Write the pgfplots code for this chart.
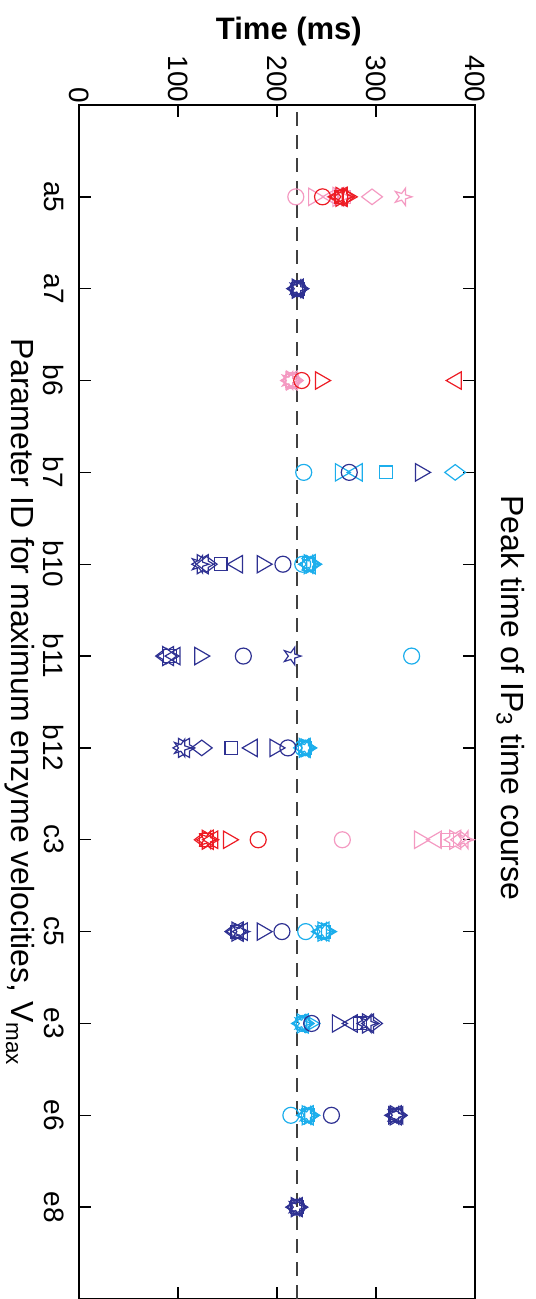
\documentclass[border=0pt]{standalone}
\usepackage{fontspec}
\setmainfont{Liberation Sans}
\usepackage{pgfplots}
\pgfplotsset{compat=1.18}
\definecolor{pinkc}{HTML}{F49AC2}
\definecolor{redc}{HTML}{ED1C24}
\definecolor{dblue}{HTML}{2E3192}
\definecolor{lblue}{HTML}{1CAEEC}
\pgfdeclareplotmark{pentagram}{%
  \pgfpathmoveto{\pgfpointpolar{0}{\pgfplotmarksize}}%
  \pgfpathlineto{\pgfpointpolar{36}{0.382*\pgfplotmarksize}}%
  \pgfpathlineto{\pgfpointpolar{72}{\pgfplotmarksize}}%
  \pgfpathlineto{\pgfpointpolar{108}{0.382*\pgfplotmarksize}}%
  \pgfpathlineto{\pgfpointpolar{144}{\pgfplotmarksize}}%
  \pgfpathlineto{\pgfpointpolar{180}{0.382*\pgfplotmarksize}}%
  \pgfpathlineto{\pgfpointpolar{216}{\pgfplotmarksize}}%
  \pgfpathlineto{\pgfpointpolar{252}{0.382*\pgfplotmarksize}}%
  \pgfpathlineto{\pgfpointpolar{288}{\pgfplotmarksize}}%
  \pgfpathlineto{\pgfpointpolar{324}{0.382*\pgfplotmarksize}}%
  \pgfpathclose\pgfusepathqstroke}
\pgfdeclareplotmark{hexagram}{%
  \pgfpathmoveto{\pgfpointpolar{0}{\pgfplotmarksize}}%
  \pgfpathlineto{\pgfpointpolar{30}{0.577*\pgfplotmarksize}}%
  \pgfpathlineto{\pgfpointpolar{60}{\pgfplotmarksize}}%
  \pgfpathlineto{\pgfpointpolar{90}{0.577*\pgfplotmarksize}}%
  \pgfpathlineto{\pgfpointpolar{120}{\pgfplotmarksize}}%
  \pgfpathlineto{\pgfpointpolar{150}{0.577*\pgfplotmarksize}}%
  \pgfpathlineto{\pgfpointpolar{180}{\pgfplotmarksize}}%
  \pgfpathlineto{\pgfpointpolar{210}{0.577*\pgfplotmarksize}}%
  \pgfpathlineto{\pgfpointpolar{240}{\pgfplotmarksize}}%
  \pgfpathlineto{\pgfpointpolar{270}{0.577*\pgfplotmarksize}}%
  \pgfpathlineto{\pgfpointpolar{300}{\pgfplotmarksize}}%
  \pgfpathlineto{\pgfpointpolar{330}{0.577*\pgfplotmarksize}}%
  \pgfpathclose\pgfusepathqstroke}
\pgfplotsset{
  mo/.style={only marks, line width=0.6pt, mark=o, mark size=4pt, mark options={solid}},
  ms/.style={only marks, line width=0.6pt, mark=square, mark size=3.2pt, mark options={solid}},
  md/.style={only marks, line width=0.6pt, mark=diamond, mark size=5.2pt, mark options={solid, rotate=90}},
  mu/.style={only marks, line width=0.6pt, mark=triangle, mark size=5pt, mark options={solid, rotate=-90}},
  mv/.style={only marks, line width=0.6pt, mark=triangle, mark size=5pt, mark options={solid, rotate=90}},
  mp/.style={only marks, line width=0.6pt, mark=pentagram, mark size=4.6pt, mark options={solid}},
  mh/.style={only marks, line width=0.6pt, mark=hexagram, mark size=5.5pt, mark options={solid}},
}
\begin{document}
\begin{tikzpicture}
\begin{axis}[name=ax, scale only axis, width=198pt, height=597pt,
  xmin=0, xmax=400, ymin=0, ymax=13,
  xtick={0,100,200,300,400}, xticklabel pos=upper,
  ytick={1,2,3,4,5,6,7,8,9,10,11,12},
  yticklabels={e8,e6,e3,c5,c3,b12,b11,b10,b7,b6,a7,a5},
  /pgf/number format/assume math mode=true,
  xticklabel style={rotate=-90, anchor=east, inner sep=1pt, font=\fontsize{14}{16}\selectfont},
  yticklabel style={xshift=-4pt, rotate=-90, anchor=north, font=\fontsize{14}{16}\selectfont},
  major tick length=6pt,
  tick style={black, line width=0.7pt},
  axis line style={black, line width=0.7pt},
  every axis x label/.style={at={(axis description cs:0.53,1)}, yshift=29.5pt, anchor=south, inner sep=0pt, font=\bfseries\fontsize{15.5}{18}\selectfont},
  every axis y label/.style={at={(axis description cs:0,0.5)}, xshift=-22pt, rotate=-90, anchor=north, inner sep=0pt, font=\fontsize{16}{19}\selectfont},
  every axis title/.style={at={(axis description cs:1,0.5)}, xshift=10.5pt, yshift=2pt, rotate=-90, anchor=south, inner sep=0pt, font=\fontsize{16}{19}\selectfont},
  xlabel={Time (ms)},
  ylabel={Parameter ID for maximum enzyme velocities, V\textsubscript{max}},
  title={Peak time of IP\textsubscript{3} time course},
]
\addplot[color=black!75, line width=0.7pt, dash pattern=on 7pt off 4.5pt] coordinates {(220,0) (220,13)};
% pink series
\addplot[mo, color=pinkc] coordinates {(219,12) (215,10) (266,5)};
\addplot[ms, color=pinkc] coordinates {(268,12) (215,10) (372,5)};
\addplot[md, color=pinkc] coordinates {(296,12) (216,10) (386,5)};
\addplot[mu, color=pinkc] coordinates {(237,12) (214,10) (344,5)};
\addplot[mv, color=pinkc] coordinates {(256,12) (214,10) (361,5)};
\addplot[mp, color=pinkc] coordinates {(327,12) (213,10) (390,5)};
\addplot[mh, color=pinkc] coordinates {(262,12) (215,10) (380,5)};
% red series
\addplot[mo, color=redc] coordinates {(246,12) (225,10) (181,5)};
\addplot[ms, color=redc] coordinates {(265,12) (128,5)};
\addplot[md, color=redc] coordinates {(268,12) (127,5)};
\addplot[mu, color=redc] coordinates {(271,12) (244,10) (151,5)};
\addplot[mv, color=redc] coordinates {(262,12) (381,10) (135,5)};
\addplot[mp, color=redc] coordinates {(268,12) (130,5)};
\addplot[mh, color=redc] coordinates {(265,12) (130,5)};
% light blue series
\addplot[mo, color=lblue] coordinates {(227,9) (226,8) (336,7) (226,6) (229,4) (226,3) (214,2)};
\addplot[ms, color=lblue] coordinates {(310,9) (232,8) (228,6) (247,4) (226,3) (231,2)};
\addplot[md, color=lblue] coordinates {(380,9) (234,8) (229,6) (248,4) (227,3) (232,2)};
\addplot[mu, color=lblue] coordinates {(264,9) (235,8) (230,6) (250,4) (233,3) (233,2)};
\addplot[mv, color=lblue] coordinates {(281,9) (232,8) (228,6) (245,4) (225,3) (230,2)};
\addplot[mp, color=lblue] coordinates {(233,8) (229,6) (247,4) (226,3) (231,2)};
\addplot[mh, color=lblue] coordinates {(233,8) (228,6) (247,4) (226,3) (231,2)};
% dark blue series
\addplot[mo, color=dblue] coordinates {(221,11) (273,9) (206,8) (166,7) (211,6) (205,4) (235,3) (255,2) (220,1)};
\addplot[ms, color=dblue] coordinates {(221,11) (143,8) (92,7) (154,6) (160,4) (284,3) (320,2) (220,1)};
\addplot[md, color=dblue] coordinates {(221,11) (129,8) (88,7) (124,6) (158,4) (296,3) (321,2) (220,1)};
\addplot[mu, color=dblue] coordinates {(221,11) (345,9) (185,8) (122,7) (198,6) (185,4) (261,3) (318,2) (220,1)};
\addplot[mv, color=dblue] coordinates {(221,11) (160,8) (97,7) (175,6) (165,4) (276,3) (322,2) (220,1)};
\addplot[mp, color=dblue] coordinates {(221,11) (122,8) (215,7) (104,6) (163,4) (292,3) (320,2) (220,1)};
\addplot[mh, color=dblue] coordinates {(221,11) (125,8) (90,7) (106,6) (160,4) (292,3) (320,2) (220,1)};
\end{axis}
\path (ax.south west) ++(-39.5pt,0pt) coordinate (bl);
\path (ax.north east) ++(30pt,52.5pt) coordinate (tr);
\pgfresetboundingbox
\path[use as bounding box] (bl) rectangle (tr);
\end{tikzpicture}
\end{document}
